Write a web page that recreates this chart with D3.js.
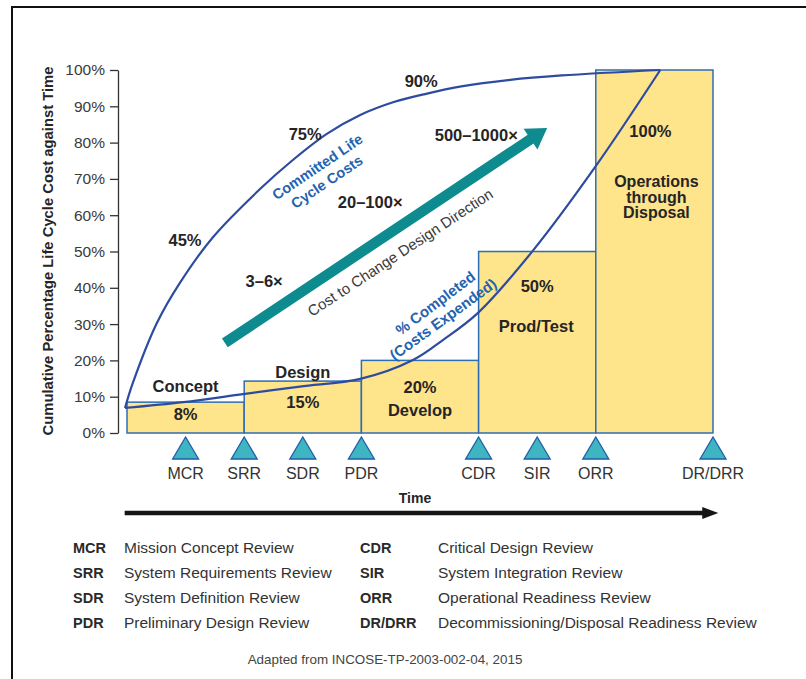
<!DOCTYPE html>
<html><head><meta charset="utf-8">
<script src="https://cdn.jsdelivr.net/npm/d3@7"></script>
<style>
body{margin:0;background:#fff}
svg{display:block}
text{font-family:"Liberation Sans",Arial,Helvetica,sans-serif}
</style>
</head><body>
<svg id="chart" width="806" height="679"></svg>
<script>
// ---------------- data ----------------
const phases = ["Concept", "Design", "Develop", "Prod/Test", "Operations through Disposal"];
const phaseStart = [0, 2, 4, 6, 8];
const phaseEnd = [2, 4, 6, 8, 10];
const phaseCost = [8.5, 14.3, 20, 50, 100];
const phasePctLabels = ["8%", "15%", "20%", "50%", "100%"];

const milestones = ["MCR", "SRR", "SDR", "PDR", "CDR", "SIR", "ORR", "DR/DRR"];
const milestoneTime = [1, 2, 3, 4, 6, 7, 8, 10];
const milestoneNames = ["Mission Concept Review", "System Requirements Review", "System Definition Review",
  "Preliminary Design Review", "Critical Design Review", "System Integration Review",
  "Operational Readiness Review", "Decommissioning/Disposal Readiness Review"];

const yTicks = [0, 10, 20, 30, 40, 50, 60, 70, 80, 90, 100];

const committedTime = [-0.034, 0.10, 0.51, 0.90, 1.47, 2.27, 2.83, 3.41, 3.98, 4.54, 5.12, 5.68, 6.54, 7.42, 9.1];
const committedPct  = [6.9, 13.8, 30.3, 41.3, 54.0, 67.2, 75.2, 82.4, 87.6, 91.1, 93.5, 95.4, 97.3, 98.5, 100];

const completedTime = [-0.034, 0.96, 1.98, 2.95, 3.98, 4.88, 5.39, 5.99, 6.91, 7.99, 9.1];
const completedPct  = [6.9, 8.5, 10.7, 12.8, 14.9, 20.1, 25.6, 33.1, 49.9, 73.3, 100];

const committedMarks = ["45%", "75%", "90%"];
const committedMarkTime = [0.99, 3.04, 5.02];
const committedMarkPct = [51.5, 80.7, 95.3];

const multipliers = ["3–6×", "20–100×", "500–1000×"];
const multiplierTime = [2.34, 4.15, 5.96];
const multiplierPct = [40.2, 62, 80.4];

const costArrowTime = [1.67, 7.17];
const costArrowPct = [24.8, 84];

// ---------------- setup ----------------
const svg = d3.select("#chart");
const x = d3.scaleLinear().domain([0, 10]).range([127, 713]);
const y = d3.scaleLinear().domain([0, 100]).range([433, 70]);

const dark = "#262425", blueText = "#2463b0", curveBlue = "#2e4c9f",
      barFill = "#fee48b", barStroke = "#2c6db6", teal = "#0e8b8f",
      triFill = "#3fb5c1", triStroke = "#1f5ea7";

// frame
svg.append("line").attr("x1", 12).attr("x2", 806).attr("y1", 7).attr("y2", 7)
  .attr("stroke", "#111").attr("stroke-width", 2);
svg.append("line").attr("x1", 12).attr("x2", 12).attr("y1", 6).attr("y2", 679)
  .attr("stroke", "#111").attr("stroke-width", 2);

// y axis
const yAxis = d3.axisLeft(y).tickValues(yTicks).tickFormat(d => d + "%")
  .tickSize(8).tickSizeOuter(0).tickPadding(5);
const gy = svg.append("g").attr("transform", "translate(118,0)").call(yAxis);
gy.select(".domain").attr("stroke", "#333").attr("stroke-width", 1.3);
gy.selectAll(".tick line").attr("stroke", "#333").attr("stroke-width", 1.3);
gy.selectAll(".tick text").attr("fill", "#3a3a3a").style("font-size", "15.5px")
  .style("font-family", '"Liberation Sans",Arial,sans-serif');

svg.append("text")
  .attr("transform", "translate(53,251) rotate(-90)")
  .attr("text-anchor", "middle").attr("fill", dark)
  .style("font-size", "14.8px").style("font-weight", "bold")
  .text("Cumulative Percentage Life Cycle Cost against Time");

// bars
svg.append("g").selectAll("rect").data(phases).join("rect")
  .attr("x", (d, i) => x(phaseStart[i]))
  .attr("width", (d, i) => x(phaseEnd[i]) - x(phaseStart[i]))
  .attr("y", (d, i) => y(phaseCost[i]))
  .attr("height", (d, i) => y(0) - y(phaseCost[i]))
  .attr("fill", barFill).attr("stroke", barStroke).attr("stroke-width", 1.5);

// phase labels (offsets relative to bar top)
const phaseLabelSpec = [
  {name: ["Concept"], nameDy: [-10], pctDy: 18},
  {name: ["Design"], nameDy: [-3], pctDy: 27},
  {name: ["Develop"], nameDy: [56], pctDy: 33},
  {name: ["Prod/Test"], nameDy: [80], pctDy: 40},
  {name: ["Operations", "through", "Disposal"], nameDy: [117, 132.5, 148], pctDy: 67}
];
const phaseLabelDx = [0, 0, 0, -1, 2];
const gl = svg.append("g").attr("fill", dark).style("font-weight", "bold").style("font-size", "16.5px")
  .attr("text-anchor", "middle");
phases.forEach((p, i) => {
  const cx = x((phaseStart[i] + phaseEnd[i]) / 2);
  const top = y(phaseCost[i]);
  const s = phaseLabelSpec[i];
  if (s.name.length === 1) {
    gl.append("text").attr("x", cx + phaseLabelDx[i]).attr("y", top + s.nameDy[0]).text(s.name[0]);
  } else {
    const t = gl.append("text").style("font-size", "16px");
    s.name.forEach((n, j) => {
      t.append("tspan").attr("x", cx + phaseLabelDx[i]).attr("y", top + s.nameDy[j]).text(n);
    });
  }
  gl.append("text").attr("x", cx + (i === 4 ? -4 : 0)).attr("y", top + s.pctDy).text(phasePctLabels[i]);
});

// curves
const line = d3.line().curve(d3.curveCatmullRom.alpha(0.5));
svg.append("path")
  .attr("d", line(committedTime.map((t, i) => [x(t), y(committedPct[i])])))
  .attr("fill", "none").attr("stroke", curveBlue).attr("stroke-width", 2.2);
svg.append("path")
  .attr("d", line(completedTime.map((t, i) => [x(t), y(completedPct[i])])))
  .attr("fill", "none").attr("stroke", curveBlue).attr("stroke-width", 2.2);

// committed markers
svg.append("g").selectAll("text").data(committedMarks).join("text")
  .attr("x", (d, i) => x(committedMarkTime[i])).attr("y", (d, i) => y(committedMarkPct[i]))
  .attr("text-anchor", "middle").attr("fill", dark)
  .style("font-weight", "bold").style("font-size", "16.5px").text(d => d);

// cost-to-change arrow
{
  const p0 = [x(costArrowTime[0]), y(costArrowPct[0])];
  const p1 = [x(costArrowTime[1]), y(costArrowPct[1])];
  const dx = p1[0] - p0[0], dy = p1[1] - p0[1];
  const L = Math.hypot(dx, dy), ux = dx / L, uy = dy / L, nx = -uy, ny = ux;
  const headLen = 20, headHalf = 12.5;
  const b = [p1[0] - ux * headLen, p1[1] - uy * headLen];
  svg.append("line").attr("x1", p0[0]).attr("y1", p0[1]).attr("x2", b[0] + ux * 2).attr("y2", b[1] + uy * 2)
    .attr("stroke", teal).attr("stroke-width", 10.5);
  svg.append("path")
    .attr("d", `M${p1[0]},${p1[1]}L${b[0] + nx * headHalf},${b[1] + ny * headHalf}L${b[0] - nx * headHalf},${b[1] - ny * headHalf}Z`)
    .attr("fill", teal);
}

// multipliers
svg.append("g").selectAll("text").data(multipliers).join("text")
  .attr("x", (d, i) => x(multiplierTime[i])).attr("y", (d, i) => y(multiplierPct[i]))
  .attr("text-anchor", "middle").attr("fill", dark)
  .style("font-weight", "bold").style("font-size", "16.5px").text(d => d);

// rotated annotations
function rotText(t, px, py, ang, size, weight, color) {
  svg.append("text")
    .attr("transform", `translate(${px},${py}) rotate(${ang})`)
    .attr("text-anchor", "middle").attr("dominant-baseline", "central")
    .attr("fill", color).style("font-size", size).style("font-weight", weight).text(t);
}
rotText("Committed Life", x(3.25), y(73.3), -34, "14.5px", "bold", blueText);
rotText("Cycle Costs", x(3.41), y(69.2), -34, "14.5px", "bold", blueText);
rotText("Cost to Change Design Direction", x(4.66), y(49.8), -33.5, "15px", "normal", "#3a3a3a");
rotText("% Completed", x(5.26), y(35.8), -37, "15px", "bold", blueText);
rotText("(Costs Expended)", x(5.39), y(31.4), -36, "15px", "bold", blueText);

// milestones
const gm = svg.append("g");
gm.selectAll("path").data(milestones).join("path")
  .attr("d", (d, i) => {
    const cx = x(milestoneTime[i]), top = y(0) + 4;
    return `M${cx},${top}L${cx + 13},${top + 22}L${cx - 13},${top + 22}Z`;
  })
  .attr("fill", triFill).attr("stroke", triStroke).attr("stroke-width", 1.3);
gm.selectAll("text").data(milestones).join("text")
  .attr("x", (d, i) => x(milestoneTime[i])).attr("y", y(0) + 46)
  .attr("text-anchor", "middle").attr("fill", "#333").style("font-size", "16px").text(d => d);

// time label & arrow
svg.append("text").attr("x", 415).attr("y", 503).attr("text-anchor", "middle")
  .attr("fill", dark).style("font-weight", "bold").style("font-size", "14px").text("Time");
{
  const x0 = x(-0.04), x1 = x(10.09), yy = 513;
  svg.append("line").attr("x1", x0).attr("x2", x1 - 12).attr("y1", yy).attr("y2", yy)
    .attr("stroke", "#151515").attr("stroke-width", 4.5);
  svg.append("path").attr("d", `M${x1},${yy}L${x1 - 16},${yy - 6}L${x1 - 16},${yy + 6}Z`).attr("fill", "#151515");
}

// legend
const leg = svg.append("g");
milestones.forEach((m, i) => {
  const col = Math.floor(i / 4), row = i % 4;
  const ax = col === 0 ? 73 : 360, dxx = col === 0 ? 124 : 438;
  const by = 553 + row * 25;
  leg.append("text").attr("x", ax).attr("y", by).attr("fill", "#2a2a2a")
    .style("font-weight", "bold").style("font-size", "14.5px").text(m);
  leg.append("text").attr("x", dxx).attr("y", by).attr("fill", "#333")
    .style("font-size", "15.5px").text(milestoneNames[i]);
});

svg.append("text").attr("x", 385).attr("y", 664).attr("text-anchor", "middle")
  .attr("fill", "#444").style("font-size", "13.4px").text("Adapted from INCOSE-TP-2003-002-04, 2015");
</script>
</body></html>
